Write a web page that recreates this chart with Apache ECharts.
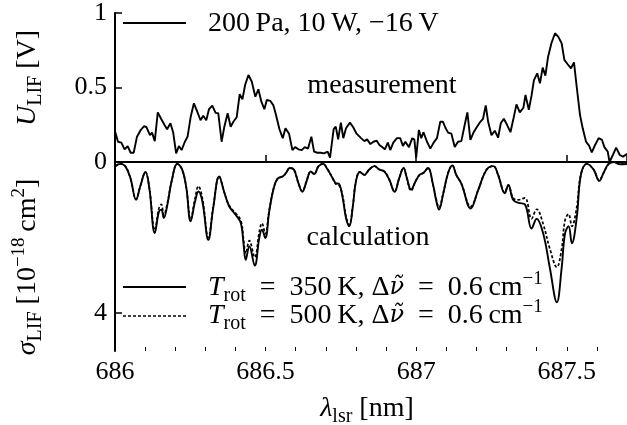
<!DOCTYPE html>
<html>
<head>
<meta charset="utf-8" />
<script src="https://cdn.jsdelivr.net/npm/echarts@6/dist/echarts.min.js"></script>
<style>
  html, body { margin: 0; padding: 0; background: #fff; }
</style>
</head>
<body>
<div id="main" style="width: 627px; height: 425px"></div>
<script type="text/javascript">
// measured LIF signal (top panel)
var measLambda = [686.001, 686.010, 686.021, 686.032, 686.042, 686.052, 686.062, 686.073, 686.084, 686.096,
  686.104, 686.116, 686.123, 686.132, 686.142, 686.153, 686.164, 686.173, 686.184, 686.193,
  686.203, 686.212, 686.221, 686.232, 686.241, 686.251, 686.262, 686.273, 686.284, 686.293,
  686.303, 686.312, 686.323, 686.334, 686.343, 686.354, 686.363, 686.374, 686.384, 686.393,
  686.404, 686.414, 686.423, 686.432, 686.443, 686.454, 686.466, 686.476, 686.486, 686.496,
  686.504, 686.516, 686.526, 686.534, 686.546, 686.557, 686.566, 686.578, 686.589, 686.598,
  686.609, 686.620, 686.630, 686.641, 686.652, 686.661, 686.672, 686.683, 686.694, 686.706,
  686.714, 686.726, 686.733, 686.741, 686.750, 686.758, 686.767, 686.780, 686.791, 686.802,
  686.817, 686.828, 686.837, 686.848, 686.858, 686.869, 686.878, 686.887, 686.896, 686.906,
  686.914, 686.924, 686.936, 686.947, 686.956, 686.964, 686.976, 686.987, 686.994, 687.000,
  687.009, 687.017, 687.024, 687.036, 687.047, 687.058, 687.069, 687.080, 687.089, 687.098,
  687.106, 687.117, 687.128, 687.139, 687.150, 687.161, 687.170, 687.180, 687.191, 687.202,
  687.213, 687.222, 687.231, 687.239, 687.250, 687.261, 687.272, 687.281, 687.291, 687.302,
  687.313, 687.324, 687.333, 687.344, 687.356, 687.363, 687.374, 687.383, 687.391, 687.402,
  687.411, 687.420, 687.429, 687.438, 687.449, 687.461, 687.472, 687.483, 687.492, 687.503,
  687.514, 687.524, 687.533, 687.544, 687.553, 687.564, 687.574, 687.583, 687.594, 687.606,
  687.617, 687.625, 687.636, 687.642, 687.653, 687.664, 687.676, 687.687, 687.698, 687.707];
var measVolt = [0.20, 0.136, 0.13, 0.085, 0.107, 0.062, 0.062, 0.17, 0.21, 0.24,
  0.235, 0.18, 0.197, 0.14, 0.333, 0.29, 0.25, 0.22, 0.26, 0.20,
  0.058, 0.107, 0.08, 0.136, 0.17, 0.30, 0.394, 0.338, 0.28, 0.31,
  0.28, 0.354, 0.378, 0.33, 0.327, 0.136, 0.237, 0.327, 0.237, 0.27,
  0.30, 0.456, 0.42, 0.517, 0.584, 0.54, 0.438, 0.488, 0.405, 0.354,
  0.416, 0.41, 0.38, 0.32, 0.22, 0.16, 0.226, 0.19, 0.08, 0.10,
  0.085, 0.08, 0.10, 0.09, 0.17, 0.07, 0.062, 0.062, 0.058, 0.07,
  0.03, 0.22, 0.237, 0.152, 0.264, 0.16, 0.226, 0.264, 0.233, 0.19,
  0.16, 0.14, 0.152, 0.12, 0.136, 0.143, 0.114, 0.10, 0.085, 0.13,
  0.08, 0.13, 0.16, 0.16, 0.107, 0.136, 0.10, 0.16, 0.15, 0.03,
  0.215, 0.16, 0.20, 0.136, 0.09, 0.13, 0.16, 0.27, 0.27, 0.226,
  0.197, 0.19, 0.10, 0.136, 0.14, 0.248, 0.333, 0.148, 0.20, 0.237,
  0.27, 0.29, 0.38, 0.27, 0.18, 0.21, 0.163, 0.26, 0.29, 0.248,
  0.20, 0.30, 0.387, 0.333, 0.364, 0.45, 0.35, 0.445, 0.55, 0.595,
  0.528, 0.633, 0.58, 0.707, 0.797, 0.864, 0.84, 0.797, 0.685, 0.656,
  0.629, 0.669, 0.505, 0.315, 0.226, 0.136, 0.11, 0.065, 0.114, 0.16,
  0.148, 0.10, 0.07, 0.0, 0.047, 0.096, 0.047, 0.036, 0.052, 0.05];

// calculated cross sections (bottom panel, axis inverted)
var calcLambda = [686.001, 686.018, 686.034, 686.051, 686.070, 686.084, 686.101, 686.114, 686.132, 686.146,
  686.154, 686.162, 686.173, 686.188, 686.207, 686.223, 686.237, 686.251, 686.266, 686.277,
  686.290, 686.310, 686.326, 686.346, 686.362, 686.379, 686.401, 686.418, 686.427, 686.434,
  686.446, 686.464, 686.479, 686.488, 686.499, 686.512, 686.527, 686.540, 686.557, 686.568,
  686.580, 686.594, 686.609, 686.622, 686.636, 686.650, 686.661, 686.676, 686.691, 686.706,
  686.722, 686.733, 686.744, 686.756, 686.767, 686.778, 686.789, 686.800, 686.813, 686.828,
  686.844, 686.861, 686.878, 686.894, 686.911, 686.928, 686.944, 686.958, 686.969, 686.983,
  686.998, 687.011, 687.024, 687.039, 687.056, 687.067, 687.076, 687.089, 687.106, 687.120,
  687.133, 687.150, 687.181, 687.206, 687.233, 687.256, 687.272, 687.294, 687.306, 687.322,
  687.340, 687.361, 687.383, 687.400, 687.422, 687.444, 687.467, 687.483, 687.494, 687.506,
  687.517, 687.533, 687.547, 687.567, 687.589, 687.608, 687.622, 687.639, 687.656, 687.677,
  687.707];
var sigma350 = [0.11, 0.05, 0.11, 0.42, 1.00, 0.64, 0.265, 0.69, 1.88, 1.31,
  1.26, 1.48, 1.17, 0.51, 0.05, 0.20, 0.69, 1.57, 1.04, 0.78,
  1.04, 2.06, 1.22, 0.38, 0.78, 1.17, 1.40, 1.62, 2.19, 2.59,
  2.23, 2.74, 2.01, 1.79, 2.01, 1.31, 0.69, 0.44, 0.38, 0.29,
  0.16, 0.20, 0.56, 0.79, 0.51, 0.25, 0.32, 0.11, 0.05, 0.20,
  0.42, 0.56, 0.58, 0.95, 1.48, 1.70, 1.22, 0.51, 0.265, 0.34,
  0.20, 0.11, 0.20, 0.25, 0.47, 0.79, 0.42, 0.16, 0.42, 0.73,
  0.51, 0.34, 0.29, 0.16, 0.60, 1.04, 1.26, 0.87, 0.29, 0.09,
  0.34, 0.57, 1.23, 0.74, 0.21, 0.11, 0.34, 0.83, 0.61, 1.00,
  1.08, 1.12, 1.76, 1.50, 1.90, 2.81, 3.71, 2.81, 1.90, 1.70,
  2.15, 1.48, 0.34, 0.05, 0.20, 0.50, 0.29, 0.05, 0.0, 0.06,
  0.05];
var sigma500 = [0.11, 0.05, 0.11, 0.42, 0.98, 0.64, 0.265, 0.69, 1.80, 1.22,
  1.12, 1.40, 1.12, 0.51, 0.05, 0.20, 0.69, 1.52, 0.95, 0.64,
  0.95, 2.00, 1.20, 0.38, 0.78, 1.15, 1.36, 1.55, 2.05, 2.42,
  2.08, 2.52, 1.85, 1.62, 1.90, 1.28, 0.69, 0.44, 0.38, 0.29,
  0.16, 0.20, 0.56, 0.77, 0.51, 0.25, 0.32, 0.11, 0.05, 0.20,
  0.42, 0.58, 0.62, 0.90, 1.44, 1.66, 1.20, 0.51, 0.265, 0.34,
  0.20, 0.11, 0.20, 0.25, 0.47, 0.78, 0.42, 0.16, 0.44, 0.76,
  0.51, 0.34, 0.29, 0.16, 0.60, 1.00, 1.20, 0.85, 0.29, 0.09,
  0.34, 0.57, 1.18, 0.74, 0.21, 0.11, 0.34, 0.80, 0.61, 0.95,
  1.00, 0.95, 1.50, 1.25, 1.65, 2.30, 2.78, 2.30, 1.55, 1.38,
  1.70, 1.20, 0.32, 0.05, 0.20, 0.48, 0.29, 0.05, 0.0, 0.06,
  0.05];

var xTicksMajor = 0.5;
var xTicksMinor = 0.1;

function pairs(xs, ys) {
  return xs.map(function (x, i) { return [x, ys[i]]; });
}

var FONT = "Liberation Serif";
var chart = echarts.init(document.getElementById("main"));

var rich = {
  i: { fontFamily: FONT, fontSize: 28, fontStyle: "italic", lineHeight: 36, color: "#000" },
  v: { fontFamily: "DejaVu Serif", fontSize: 24, fontStyle: "italic", lineHeight: 36, color: "#000" },
  s: { fontFamily: FONT, fontSize: 20, lineHeight: 20, verticalAlign: "bottom", color: "#000" },
  p: { fontFamily: FONT, fontSize: 19, lineHeight: 19, verticalAlign: "top", color: "#000" },
  n: { fontFamily: FONT, fontSize: 28, lineHeight: 36, color: "#000" }
};

function txt(x, y, text, rot, align) {
  return {
    type: "text", x: x, y: y, rotation: rot || 0,
    style: {
      text: text, rich: rich, fontFamily: FONT, fontSize: 28, fill: "#000",
      align: align || "center", verticalAlign: "middle"
    }
  };
}

var axisLine = { show: true, lineStyle: { color: "#000", width: 2 } };

chart.setOption({
  animation: false,
  backgroundColor: "#fff",
  grid: [
    { left: 115, top: 13, width: 512, height: 149 },
    { left: 115, top: 162, width: 512, height: 189 }
  ],
  xAxis: [
    { gridIndex: 0, type: "value", min: 686, max: 687.7, interval: xTicksMajor, position: "bottom",
      axisLine: axisLine, axisTick: { inside: true, length: 7, lineStyle: { color: "#000", width: 1.5 } },
      axisLabel: { show: false }, splitLine: { show: false } },
    { gridIndex: 1, type: "value", min: 686, max: 687.7, interval: xTicksMajor, position: "bottom",
      axisLine: axisLine, axisTick: { inside: true, length: 7, lineStyle: { color: "#000", width: 1.5 } },
      axisLabel: { fontFamily: FONT, fontSize: 26, color: "#000", margin: 8, showMaxLabel: false,
        formatter: function (v) { return String(+v.toFixed(1)); } },
      splitLine: { show: false } },
    { gridIndex: 1, type: "value", min: 686, max: 687.7, interval: xTicksMinor, position: "bottom",
      axisLine: { show: false }, axisTick: { inside: true, length: 4, lineStyle: { color: "#000", width: 1 } },
      axisLabel: { show: false }, splitLine: { show: false } }
  ],
  yAxis: [
    { gridIndex: 0, type: "value", min: 0, max: 1, interval: 0.5,
      axisLine: axisLine, axisTick: { inside: true, length: 7, lineStyle: { color: "#000", width: 1.5 } },
      axisLabel: { fontFamily: FONT, fontSize: 26, color: "#000", margin: 8 },
      splitLine: { show: false } },
    { gridIndex: 1, type: "value", min: 0, max: 5, interval: 4, inverse: true,
      axisLine: axisLine, axisTick: { inside: true, length: 7, lineStyle: { color: "#000", width: 1.5 } },
      axisLabel: { fontFamily: FONT, fontSize: 26, color: "#000", margin: 8, showMinLabel: false, showMaxLabel: false },
      splitLine: { show: false } }
  ],
  series: [
    { type: "line", xAxisIndex: 0, yAxisIndex: 0, data: pairs(measLambda, measVolt),
      showSymbol: false, lineStyle: { color: "#000", width: 1.9 } },
    { type: "line", xAxisIndex: 1, yAxisIndex: 1, data: pairs(calcLambda, sigma500), smooth: 0.4,
      showSymbol: false, lineStyle: { color: "#000", width: 1.7, type: [3, 2] } },
    { type: "line", xAxisIndex: 1, yAxisIndex: 1, data: pairs(calcLambda, sigma350), smooth: 0.4,
      showSymbol: false, lineStyle: { color: "#000", width: 1.9 } }
  ],
  graphic: [
    { type: "line", shape: { x1: 123, y1: 23, x2: 186, y2: 23 }, style: { stroke: "#000", lineWidth: 1.9 } },
    txt(208, 24, "200\u2009Pa, 10\u2009W, \u221216\u2009V", 0, "left"),
    txt(382, 86, "measurement"),
    txt(368, 238, "calculation"),
    { type: "line", shape: { x1: 123, y1: 287, x2: 186, y2: 287 }, style: { stroke: "#000", lineWidth: 1.9 } },
    txt(208, 288, "{i|T}{s|rot}  =  350\u2009K, \u0394{v|\u03bd\u0303}  =  0.6\u2009cm{p|\u22121}", 0, "left"),
    { type: "line", shape: { x1: 123, y1: 316, x2: 186, y2: 316 }, style: { stroke: "#000", lineWidth: 1.7, lineDash: [3, 2] } },
    txt(208, 316, "{i|T}{s|rot}  =  500\u2009K, \u0394{v|\u03bd\u0303}  =  0.6\u2009cm{p|\u22121}", 0, "left"),
    txt(28, 78, "{i|U}{s|LIF} [V]", Math.PI / 2),
    txt(28, 267, "{i|\u03c3}{s|LIF} [10{p|\u221218}\u2009cm{p|2}]", Math.PI / 2),
    txt(367, 409, "{i|\u03bb}{s|lsr} [nm]")
  ]
});
</script>
</body>
</html>
